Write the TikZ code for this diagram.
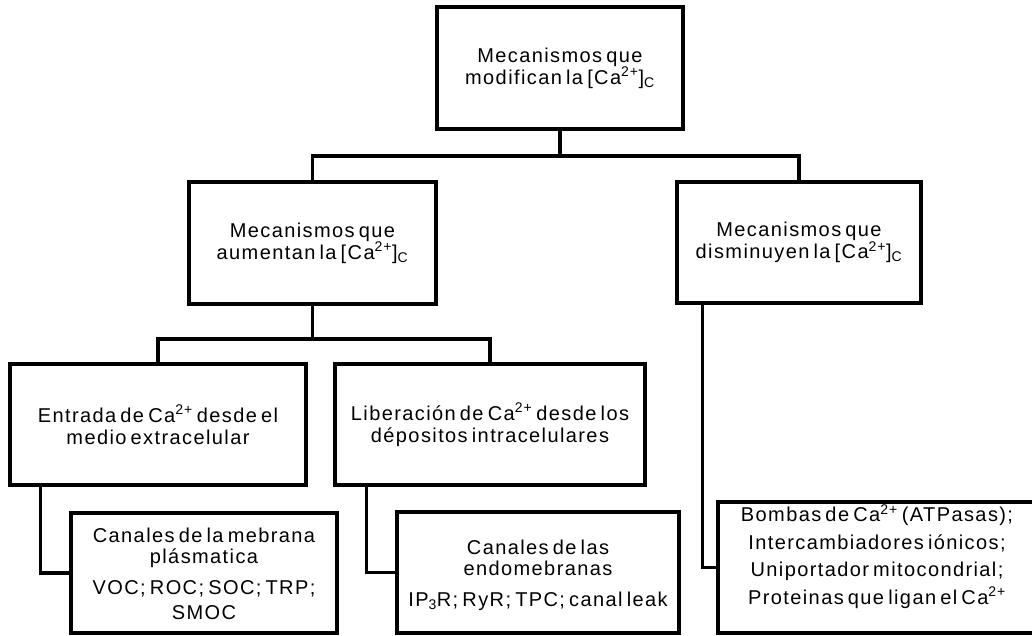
\documentclass[tikz,border=0pt]{standalone}
\usepackage{fontspec}
\setmainfont{Liberation Sans}[LetterSpace=7, WordSpace=0.6]
\newcommand{\caion}{Ca\textsuperscript{2+}}
\newcommand{\cabrack}{[\caion]\textsubscript{C}}
\begin{document}
\begin{tikzpicture}[x=1pt,y=1pt,
  box/.style={draw, line width=3.2pt, inner sep=0pt, align=center,
    font=\fontsize{20}{22}\selectfont},
  txt/.style={inner sep=0pt, align=center, font=\fontsize{20}{21}\selectfont},
  conn/.style={line width=3.2pt}]
\useasboundingbox (0,0) rectangle (1032,-635);
% level 0
\node[box, minimum width=246pt, minimum height=122pt] (t) at (560,-68) {Mecanismos que\\modifican la \cabrack};
% level 1
\node[box, minimum width=247pt, minimum height=122pt] (m1) at (312.5,-243) {Mecanismos que\\aumentan la \cabrack};
\node[box, minimum width=244pt, minimum height=121pt] (m2) at (799,-242.5) {Mecanismos que\\disminuyen la \cabrack};
% level 2
\node[box, minimum width=296pt, minimum height=121pt] (l1) at (158,-424.5) {Entrada de \caion{} desde el\\medio extracelular};
\node[box, minimum width=310pt, minimum height=121pt] (l2) at (490,-424.5) {Liberación de \caion{} desde los\\dépositos intracelulares};
% level 3
\node[box, minimum width=266pt, minimum height=120pt] (b1) at (204,-573) {};
\node[box, minimum width=282pt, minimum height=121pt] (b2) at (538,-572.5) {};
\node[box, minimum width=318pt, minimum height=131pt] (b3) at (877,-567.5) {};
\node[txt] (b1a) at (204,-548) {Canales de la mebrana\\plásmatica};
\node[txt, font=\fontsize{20}{25}\selectfont] (b1b) at (204,-600) {VOC; ROC; SOC; TRP;\\SMOC};
\node[txt] (b2a) at (538,-558) {Canales de las\\endomebranas};
\node[txt] (b2b) at (538,-601) {IP\textsubscript{3}R; RyR; TPC; canal leak};
\node[txt, font=\fontsize{20}{27.5}\selectfont] (b3a) at (877,-556.5) {Bombas de \caion{} (ATPasas);\\Intercambiadores iónicos;\\Uniportador mitocondrial;\\Proteinas que ligan el \caion};
% connectors
\coordinate (j1) at (560,-156);
\coordinate (j2) at (312.5,-339);
\draw[conn] (t.south) -- (j1);
\draw[conn] (m1.north) |- (j1) -| (m2.north);
\draw[conn] (m1.south) -- (j2);
\draw[conn] (l1.north) |- (j2) -| (l2.north);
\draw[conn] ([xshift=32pt]l1.south west) |- (b1.west);
\draw[conn] ([xshift=33pt]l2.south west) |- (b2.west);
\draw[conn] ([xshift=27pt]m2.south west) |- (b3.west);
\end{tikzpicture}
\end{document}
